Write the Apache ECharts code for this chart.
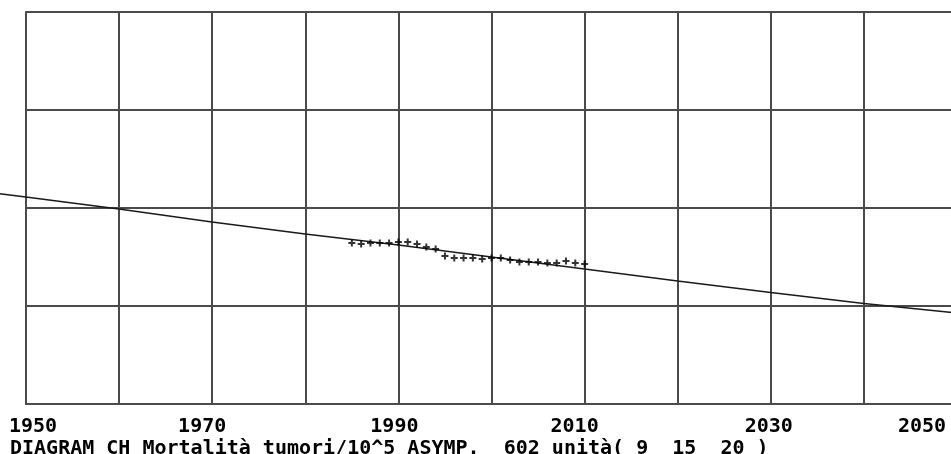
<!DOCTYPE html>
<html>
<head>
<meta charset="utf-8">
<script src="https://cdn.jsdelivr.net/npm/echarts@6/dist/echarts.min.js"></script>
<style>
html,body{margin:0;padding:0;background:#fff;overflow:hidden;width:951px;height:454px;}
#wrap{position:relative;width:951px;height:454px;overflow:hidden;}
#chart{position:absolute;left:-100px;top:0;width:1100px;height:454px;}
</style>
</head>
<body>
<div id="wrap"><div id="chart"></div></div>
<script>
// Observed yearly values (per 10^5)
const obsYears = [1985,1986,1987,1988,1989,1990,1991,1992,1993,1994,1995,1996,1997,1998,1999,2000,2001,2002,2003,2004,2005,2006,2007,2008,2009,2010];
const obsValues = [164.3,163.3,164.3,164.3,164.3,165.3,165.3,163.3,160.2,158.2,151.0,149.0,149.0,149.0,148.0,149.0,149.0,146.9,144.9,144.9,144.9,143.9,143.9,145.9,143.9,142.9];
// Fitted asymptotic curve
const fitYears = [1947,1950,1960,1970,1980,1990,2000,2010,2020,2030,2040,2050];
const fitValues = [214.7,211.2,199.0,185.7,173.5,162.2,150.0,137.8,125.5,113.8,102.6,92.9];
// Tick labels shown on the x axis
const xLabels = ['1950','1970','1990','2010','2030','2050'];
const titleText = 'DIAGRAM CH Mortalità tumori/10^5 ASYMP.  602 unità( 9  15  20 )';

const font = 'DejaVu Sans Mono';
const labelShift = {'1950':[0,0,0,14],'1970':[0,20,0,0],'1990':[0,8,0,0],'2010':[0,20,0,0],'2030':[0,4,0,0],'2050':[0,70,0,0]};
const rich = {};
xLabels.forEach(l => {
  rich['y'+l] = {fontFamily: font, fontWeight: 'bold', fontSize: 20, color: '#000', padding: labelShift[l]};
});

const off = 100; // chart canvas starts 100px left of the page
const gridColor = '#4a4a4a';
const chart = echarts.init(document.getElementById('chart'), null, {renderer: 'canvas'});
chart.setOption({
  animation: false,
  backgroundColor: '#fff',
  title: {
    text: titleText,
    left: 10 + off, top: 439, padding: 0,
    textStyle: {fontFamily: font, fontWeight: 'bold', fontSize: 20, color: '#000'}
  },
  grid: [
    {left: 26 + off, top: 12, right: 43, bottom: 50, containLabel: false},
    {left: 26 + off - 93.33, top: 12, right: 43, bottom: 50, containLabel: false}
  ],
  xAxis: [{
    type: 'value', min: 1950, max: 2050, interval: 10, gridIndex: 0,
    axisLine: {show: true, lineStyle: {color: gridColor, width: 2}},
    axisTick: {show: false},
    splitLine: {show: true, lineStyle: {color: gridColor, width: 2}},
    axisLabel: {
      show: true, margin: 13,
      formatter: v => { const s = String(v); return xLabels.includes(s) ? '{y'+s+'|'+s+'}' : ''; },
      rich: rich
    }
  }, {
    type: 'value', min: 1940, max: 2050, gridIndex: 1, show: false
  }],
  yAxis: [{
    type: 'value', min: 0, max: 400, interval: 100, gridIndex: 0,
    axisLine: {show: true, lineStyle: {color: gridColor, width: 2}},
    axisTick: {show: false},
    axisLabel: {show: false},
    splitLine: {show: true, lineStyle: {color: gridColor, width: 2}}
  }, {
    type: 'value', min: 0, max: 400, gridIndex: 1, show: false
  }],
  series: [
    {
      type: 'line', xAxisIndex: 1, yAxisIndex: 1,
      data: fitYears.map((y,i)=>[y, fitValues[i]]),
      smooth: false, showSymbol: false,
      lineStyle: {color: '#1a1a1a', width: 1.5}, z: 3
    },
    {
      type: 'scatter', xAxisIndex: 0, yAxisIndex: 0,
      data: obsYears.map((y,i)=>[y, obsValues[i]]),
      symbol: 'path://M2.5,0h2v2.5h2.5v2h-2.5v2.5h-2v-2.5h-2.5v-2h2.5z', symbolSize: 7,
      itemStyle: {color: '#000'}, z: 4
    }
  ]
});
</script>
</body>
</html>
